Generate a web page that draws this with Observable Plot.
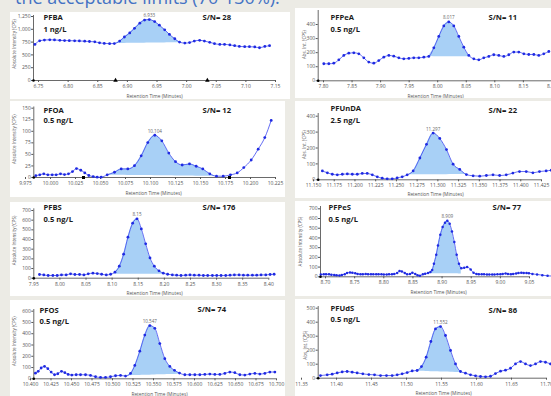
<!DOCTYPE html>
<html><head><meta charset="utf-8">
<script src="https://cdn.jsdelivr.net/npm/d3@7"></script>
<script src="https://cdn.jsdelivr.net/npm/@observablehq/plot@0.6"></script>
<style>
html,body{margin:0;padding:0;}
body{width:551px;height:396px;overflow:hidden;background:#ecebe5;position:relative;font-family:"Open Sans",sans-serif;}
#title{position:absolute;left:15px;top:-12px;font-size:18px;line-height:18px;color:#4472c4;white-space:nowrap;}
.panel{position:absolute;background:#fff;overflow:hidden;}
.panel svg{display:block;}
</style></head><body>
<div id="title">the acceptable limits (70-130%).</div>
<script>
// ---------- data (retention time in minutes, intensity in CPS) ----------
const pfba = [[6.744,705],[6.752,775],[6.760,790],[6.769,795],[6.777,792],[6.786,785],[6.794,780],[6.802,778],[6.811,775],[6.819,772],[6.828,768],[6.836,762],[6.845,755],[6.853,735],[6.861,725],[6.870,720],[6.878,722],[6.887,770],[6.895,850],[6.904,930],[6.912,1020],[6.921,1120],[6.929,1180],[6.937,1190],[6.946,1150],[6.954,1080],[6.963,990],[6.971,900],[6.980,815],[6.988,750],[6.997,730],[7.005,740],[7.013,770],[7.022,785],[7.030,770],[7.039,745],[7.047,720],[7.056,705],[7.064,705],[7.073,695],[7.081,680],[7.089,665],[7.098,660],[7.106,660],[7.115,655],[7.123,640],[7.132,665],[7.140,680]];
const pfbaBase = [[6.878,722],[6.988,738]];
const pfbaMarks = [6.880, 7.035];
const pfbaXTicks = [6.75,6.80,6.85,6.90,6.95,7.00,7.05,7.10,7.15];
const pfbaYTicks = [0,250,500,750,1000,1250];

const pfpea = [[7.8005,121],[7.8093,121],[7.818,125],[7.8268,149],[7.8356,180],[7.8443,196],[7.8531,199],[7.8618,192],[7.8706,163],[7.8793,133],[7.8881,125],[7.8968,144],[7.9056,168],[7.9144,180],[7.9231,175],[7.9319,163],[7.9406,156],[7.9494,159],[7.9581,163],[7.9669,163],[7.9757,168],[7.9844,173],[7.9932,234],[8.0019,315],[8.0107,390],[8.0194,418],[8.0282,390],[8.0370,315],[8.0457,239],[8.0545,180],[8.0632,156],[8.0720,149],[8.0807,163],[8.0895,173],[8.0982,185],[8.1070,180],[8.1158,173],[8.1245,185],[8.1333,204],[8.1420,204],[8.1508,192],[8.1595,187],[8.1683,187],[8.1770,180],[8.1858,192],[8.1946,208]];
const pfpeaBase = [[7.9844,172],[8.0545,170]];
const pfpeaXTicks = [7.80,7.85,7.90,7.95,8.00,8.05,8.10,8.15,8.20];
const pfpeaYTicks = [0,100,200,300,400];

const pfoa = [[9.9853,4],[9.9893,5.7],[9.9933,7.9],[9.9973,5.7],[10.0017,5.7],[10.0057,5.7],[10.0100,7.9],[10.0140,6.4],[10.0180,7.9],[10.0220,12.9],[10.0260,19.3],[10.0303,15.7],[10.0343,10],[10.0383,4.3],[10.0427,2.1],[10.0467,0.7],[10.0507,0.7],[10.0567,5.7],[10.0640,11.4],[10.0707,18.6],[10.0773,18.6],[10.0840,25.7],[10.0907,47],[10.0973,75.7],[10.1043,91.4],[10.1113,79.3],[10.1183,52.9],[10.1250,34.3],[10.1317,27.1],[10.1390,29.3],[10.1457,24.3],[10.1523,18.6],[10.1593,7.9],[10.1660,2.9],[10.1727,2.9],[10.1800,5.7],[10.1867,10],[10.1933,21.4],[10.2007,37.9],[10.2077,61.4],[10.2143,86.4],[10.2207,123.6]];
const pfoaBase = [[10.0567,5],[10.1660,2.5]];
const pfoaMarks = [10.033, 10.179];
const pfoaXTicks = [9.975,10.000,10.025,10.050,10.075,10.100,10.125,10.150,10.175,10.200,10.225];
const pfoaYTicks = [0,25,50,75,100,125,150];

const pfunda = [[11.1607,56],[11.1667,44],[11.1727,35],[11.1787,31],[11.1848,35],[11.1908,37],[11.1968,35],[11.2028,35],[11.2088,40],[11.2148,40],[11.2209,31],[11.2269,19],[11.2329,10],[11.2389,6],[11.2449,6],[11.2509,12],[11.2570,19],[11.2630,31],[11.2702,56],[11.2783,137],[11.2863,223],[11.2943,294],[11.3023,260],[11.3104,190],[11.3184,98],[11.3264,65],[11.3344,33],[11.3425,25],[11.3505,23],[11.3585,27],[11.3665,31],[11.3745,27],[11.3825,31],[11.3905,42],[11.3985,52],[11.4066,52],[11.4146,44],[11.4226,52],[11.4306,56],[11.4367,60]];
const pfundaBase = [[11.2630,31],[11.3344,33]];
const pfundaXTicks = [11.150,11.175,11.200,11.225,11.250,11.275,11.300,11.325,11.350,11.375,11.400,11.425];
const pfundaYTicks = [0,100,200,300,400];

const pfbs = [[7.9609,38],[7.9692,34],[7.9775,28],[7.9865,28],[7.9948,28],[8.0030,34],[8.0120,34],[8.0204,45],[8.0287,38],[8.0376,38],[8.0460,34],[8.0543,45],[8.0632,52],[8.0715,48],[8.0799,41],[8.0888,34],[8.0971,41],[8.1054,62],[8.1137,124],[8.1220,248],[8.1303,424],[8.1393,569],[8.1476,614],[8.1559,510],[8.1642,355],[8.1725,210],[8.1808,124],[8.1897,76],[8.1980,52],[8.2063,41],[8.2153,34],[8.2236,31],[8.2319,28],[8.2408,31],[8.2491,34],[8.2574,31],[8.2664,31],[8.2747,28],[8.2830,28],[8.2920,28],[8.3003,28],[8.3086,28],[8.3175,28],[8.3258,31],[8.3341,34],[8.3431,34],[8.3514,31],[8.3597,31],[8.3686,31],[8.3769,31],[8.3852,34],[8.3942,34],[8.4025,38],[8.4102,41]];
const pfbsBase = [[8.1054,40],[8.1980,40]];
const pfbsXTicks = [7.95,8.00,8.05,8.10,8.15,8.20,8.25,8.30,8.35,8.40];
const pfbsYTicks = [0,100,200,300,400,500,600,700];

const pfpes = [[8.692,24],[8.697,26],[8.701,27],[8.706,25],[8.710,22],[8.715,18],[8.719,15],[8.724,14],[8.728,18],[8.733,27],[8.737,38],[8.742,45],[8.746,42],[8.751,36],[8.755,30],[8.760,27],[8.764,27],[8.769,28],[8.773,27],[8.778,27],[8.782,26],[8.787,27],[8.791,27],[8.796,25],[8.800,24],[8.805,24],[8.809,25],[8.814,25],[8.818,28],[8.823,40],[8.827,60],[8.831,55],[8.836,40],[8.840,25],[8.845,30],[8.849,41],[8.854,30],[8.858,15],[8.862,10],[8.867,25],[8.871,31],[8.876,38],[8.880,50],[8.883,70],[8.886,134],[8.890,227],[8.893,323],[8.897,433],[8.901,512],[8.905,557],[8.909,577],[8.913,546],[8.917,467],[8.921,357],[8.925,227],[8.929,134],[8.933,89],[8.938,93],[8.943,100],[8.949,76],[8.954,41],[8.959,30],[8.963,27],[8.968,26],[8.972,25],[8.977,24],[8.981,24],[8.986,24],[8.990,24],[8.995,25],[9.000,27],[9.004,30],[9.009,34],[9.013,30],[9.018,27],[9.022,30],[9.027,34],[9.031,38],[9.036,41],[9.040,40],[9.045,38],[9.049,36],[9.055,30],[9.063,24],[9.072,17],[9.081,10],[9.089,8]];
const pfpesBase = [[8.871,31],[8.933,30]];
const pfpesXTicks = [8.70,8.75,8.80,8.85,8.90,8.95,9.00,9.05];
const pfpesYTicks = [0,100,200,300,400,500,600,700];

const pfos = [[10.406,50],[10.4094,66],[10.4130,96],[10.4171,110],[10.4211,90],[10.4252,60],[10.4293,36],[10.4333,45],[10.4378,66],[10.4419,54],[10.4459,39],[10.4504,33],[10.4557,36],[10.4610,36],[10.4671,36],[10.4732,30],[10.4793,18],[10.4854,12],[10.4915,12],[10.4976,18],[10.5037,27],[10.5098,30],[10.5159,24],[10.5220,48],[10.5272,119],[10.5333,245],[10.5394,388],[10.5455,472],[10.5516,448],[10.5577,313],[10.5638,179],[10.5699,110],[10.5756,75],[10.5817,51],[10.5882,36],[10.5943,36],[10.6004,36],[10.6065,36],[10.6126,39],[10.6187,42],[10.6248,39],[10.6309,39],[10.6370,48],[10.6431,60],[10.6492,54],[10.6553,36],[10.6614,33],[10.6675,42],[10.6736,48],[10.6797,42],[10.6858,48],[10.6919,60],[10.6980,60]];
const pfosBase = [[10.5159,26],[10.5817,40]];
const pfosXTicks = [10.400,10.425,10.450,10.475,10.500,10.525,10.550,10.575,10.600,10.625,10.650,10.675,10.700];
const pfosYTicks = [0,100,200,300,400,500,600];

const pfuds = [[11.3771,19],[11.3867,24],[11.3938,29],[11.4010,38],[11.4081,45],[11.4152,48],[11.4224,43],[11.4295,38],[11.4376,31],[11.4462,26],[11.4543,24],[11.4629,19],[11.4714,19],[11.4795,19],[11.4867,24],[11.4938,31],[11.5010,40],[11.5081,52],[11.5152,55],[11.5214,83],[11.5281,150],[11.5348,262],[11.5414,352],[11.5486,369],[11.5557,305],[11.5629,198],[11.5700,102],[11.5771,48],[11.5843,36],[11.5914,24],[11.5986,17],[11.6057,12],[11.6129,10],[11.6200,14],[11.6271,33],[11.6343,50],[11.6414,57],[11.6486,71],[11.6557,102],[11.6629,119],[11.6700,102],[11.6771,90],[11.6843,102],[11.6914,119],[11.6986,114],[11.7057,102]];
const pfudsBase = [[11.5152,50],[11.5771,40]];
const pfudsXTicks = [11.35,11.40,11.45,11.50,11.55,11.60,11.65,11.70];
const pfudsYTicks = [0,100,200,300,400,500];

const XLABEL = "Retention Time (Minutes)";
const YLONG = "Absolute Intensity (CPS)";
const YSHORT = "Abs. Int. (CPS)";

// ---------- panel layout ----------
const panels = [
  {data:pfba, base:pfbaBase, marks:pfbaMarks, sym:"triangle", xticks:pfbaXTicks, yticks:pfbaYTicks, xfmt:".2f", yfmt:",",
   box:{l:10,t:12,w:280,h:87}, axisX:33, xref:[[6.75,38],[7.15,275]], yref:[[0,80],[1250,16]], axisTop:15,
   name:"PFBA", conc:"1 ng/L", sn:"S/N= 28", namePos:[43,16.8], concPos:[43,29.5], snPos:[202,17.5],
   ylabel:YLONG, ylx:14, ylDy:-4, xlx:154, xlDy:15.5, peak:"6.933"},
  {data:pfpea, base:pfpeaBase, xticks:pfpeaXTicks, yticks:pfpeaYTicks, xfmt:".2f", yfmt:",",
   box:{l:295,t:8,w:270,h:90}, axisX:317.7, xref:[[7.80,323],[8.20,551.4]], yref:[[0,80.3],[400,24]], axisTop:10,
   name:"PFPeA", conc:"0.5 ng/L", sn:"S/N= 11", namePos:[330,16.7], concPos:[330,29.3], snPos:[488,17],
   ylabel:YSHORT, ylx:304, ylDy:-1, xlx:435, xlDy:15.5, peak:"8.017"},
  {data:pfoa, base:pfoaBase, marks:pfoaMarks, sym:"square", xticks:pfoaXTicks, yticks:pfoaYTicks, xfmt:".3f", yfmt:",",
   box:{l:10,t:101,w:275,h:96}, axisX:33.3, xref:[[10.0,50],[10.225,275]], yref:[[0,177],[150,107.7]], axisTop:106.5,
   name:"PFOA", conc:"0.5 ng/L", sn:"S/N= 12", namePos:[43,110], concPos:[43,120], snPos:[202,110.5],
   ylabel:YLONG, ylx:14, ylDy:-3, xlx:153, xlDy:16, peak:"10.104"},
  {data:pfunda, base:pfundaBase, xticks:pfundaXTicks, yticks:pfundaYTicks, xfmt:".3f", yfmt:",",
   box:{l:295,t:101,w:270,h:97}, axisX:317.7, xref:[[11.15,313],[11.425,541]], yref:[[0,179.3],[400,115.7]], axisTop:113,
   name:"PFUnDA", conc:"2.5 ng/L", sn:"S/N= 22", namePos:[330,108.3], concPos:[330,120], snPos:[488,110],
   ylabel:YSHORT, ylx:304, ylDy:-2, xlx:435, xlDy:15, peak:"11.297"},
  {data:pfbs, base:pfbsBase, xticks:pfbsXTicks, yticks:pfbsYTicks, xfmt:".2f", yfmt:",",
   box:{l:10,t:202,w:275,h:94}, axisX:33.3, xref:[[7.95,33.3],[8.40,268.3]], yref:[[0,277.7],[700,210]], axisTop:208.3,
   name:"PFBS", conc:"0.5 ng/L", sn:"S/N= 176", namePos:[43,206.7], concPos:[43,219], snPos:[202,206.7],
   ylabel:YLONG, ylx:14, ylDy:-3, xlx:154, xlDy:15.5, peak:"8.15"},
  {data:pfpes, base:pfpesBase, xticks:pfpesXTicks, yticks:pfpesYTicks, xfmt:".2f", yfmt:",", small:true,
   box:{l:295,t:201,w:270,h:95}, axisX:320, xref:[[8.70,325],[9.05,529]], yref:[[0,276.3],[700,208.3]], axisTop:206,
   name:"PFPeS", conc:"0.5 ng/L", sn:"S/N= 77", namePos:[328,206.7], concPos:[328,219], snPos:[492,206.7],
   ylabel:YLONG, ylx:300, ylDy:0, xlx:438, xlDy:16, peak:"8.909"},
  {data:pfos, base:pfosBase, xticks:pfosXTicks, yticks:pfosYTicks, xfmt:".3f", yfmt:",",
   box:{l:10,t:300,w:275,h:100}, axisX:33.3, xref:[[10.40,30],[10.70,276]], yref:[[0,378.3],[600,310.7]], axisTop:309,
   name:"PFOS", conc:"0.5 ng/L", sn:"S/N= 74", namePos:[39,310], concPos:[39,321], snPos:[197,309.5],
   ylabel:YLONG, ylx:14, ylDy:-3, xlx:159, xlDy:15.5, peak:"10.547"},
  {data:pfuds, base:pfudsBase, xticks:pfudsXTicks, yticks:pfudsYTicks, xfmt:".2f", yfmt:",",
   box:{l:295,t:299,w:270,h:100}, axisX:317.7, xref:[[11.35,301],[11.70,546]], yref:[[0,377.7],[500,307.7]], axisTop:306,
   name:"PFUdS", conc:"0.5 ng/L", sn:"S/N= 86", namePos:[330,307.7], concPos:[330,319], snPos:[488,310.5],
   ylabel:YSHORT, ylx:305, ylDy:3, xlx:443, xlDy:15.5, peak:"11.552"}
];

const LINE = "#3b46f0", DOT = "#1f2ae2", FILL = "#a8d0f6", AXIS = "#444";

function build(c) {
  const kx = (c.xref[1][1] - c.xref[0][1]) / (c.xref[1][0] - c.xref[0][0]);
  const xmin = c.xref[0][0] + (c.axisX - c.xref[0][1]) / kx;
  const xmax = c.xref[0][0] + (c.box.l + c.box.w - c.xref[0][1]) / kx;
  const ky = (c.yref[0][1] - c.yref[1][1]) / (c.yref[1][0] - c.yref[0][0]);
  const ymax = (c.yref[0][1] - c.axisTop) / ky;
  const mL = c.axisX - c.box.l, mT = c.axisTop - c.box.t, mB = c.box.t + c.box.h - c.yref[0][1];
  const [b0, b1] = c.base;
  const base = t => b0[1] + (b1[1] - b0[1]) * (t - b0[0]) / (b1[0] - b0[0]);
  const seg = c.data.filter(d => d[0] >= b0[0] - 1e-9 && d[0] <= b1[0] + 1e-9);
  const peakPt = seg.reduce((a, b) => b[1] > a[1] ? b : a);
  const xl = c.xref[0][0] + (c.xlx - c.xref[0][1]) / kx;
  const lastTick = c.xticks[c.xticks.length - 1];
  const fsT = 7.6;
  const marks = [
    Plot.areaY(seg, {x: d => d[0], y1: d => base(d[0]), y2: d => d[1], fill: FILL, curve: "monotone-x"}),
    Plot.ruleY([0], {x1: xmin, x2: Math.min(lastTick, xmax), stroke: AXIS, strokeWidth: 0.8}),
    Plot.ruleX([xmin], {y1: 0, y2: ymax, stroke: AXIS, strokeWidth: 0.8}),
    Plot.axisX({ticks: c.xticks, tickFormat: d3.format(c.xfmt), tickSize: 2, tickPadding: 2, label: null}),
    Plot.axisY({ticks: c.yticks, tickFormat: d3.format(c.yfmt), tickSize: 2, tickPadding: 1, label: null}),
    Plot.line(c.data, {x: d => d[0], y: d => d[1], stroke: LINE, strokeWidth: 0.8, curve: "monotone-x"}),
    Plot.dot(c.data, {x: d => d[0], y: d => d[1], r: c.small ? 1.25 : 1.4, fill: DOT}),
    Plot.dot([[xmin, 0]], {x: d => d[0], y: d => d[1], r: 1.3, fill: "#000"}),
    Plot.text([peakPt], {x: d => d[0], y: d => d[1], text: () => c.peak, dy: -4, fontSize: 4.6, fill: "#666"}),
    Plot.text([c.name], {text: d => d, frameAnchor: "top-left", dx: c.namePos[0] - c.axisX, dy: c.namePos[1] - c.axisTop,
      textAnchor: "start", lineAnchor: "middle", fontSize: fsT, fontWeight: 700, fill: "#1b1b1b"}),
    Plot.text([c.conc], {text: d => d, frameAnchor: "top-left", dx: c.concPos[0] - c.axisX, dy: c.concPos[1] - c.axisTop,
      textAnchor: "start", lineAnchor: "middle", fontSize: fsT, fontWeight: 700, fill: "#1b1b1b"}),
    Plot.text([c.sn], {text: d => d, frameAnchor: "top-left", dx: c.snPos[0] - c.axisX, dy: c.snPos[1] - c.axisTop,
      textAnchor: "start", lineAnchor: "middle", fontSize: fsT, fontWeight: 700, fill: "#1b1b1b"}),
    Plot.text([c.ylabel], {text: d => d, frameAnchor: "left", rotate: -90, dx: c.ylx - c.axisX, dy: c.ylDy,
      textAnchor: "middle", lineAnchor: "middle", fontSize: 4.5, fill: "#555"}),
    Plot.text([{x: xl, s: XLABEL}], {x: "x", text: "s", frameAnchor: "bottom", dy: c.xlDy,
      textAnchor: "middle", lineAnchor: "middle", fontSize: 4.8, fill: "#555"})
  ];
  if (c.marks) marks.push(Plot.dot(c.marks, {x: d => d, y: 0, symbol: c.sym, r: 1.7, fill: "#000"}));
  const svg = Plot.plot({
    width: c.box.w, height: c.box.h,
    marginLeft: mL, marginRight: 0, marginTop: mT, marginBottom: mB,
    x: {domain: [xmin, xmax]}, y: {domain: [0, ymax]},
    style: {fontFamily: "'Open Sans', sans-serif", fontSize: "5px", color: "#555", background: "transparent", overflow: "visible"},
    marks
  });
  const div = document.createElement("div");
  div.className = "panel";
  Object.assign(div.style, {left: c.box.l + "px", top: c.box.t + "px", width: c.box.w + "px", height: c.box.h + "px"});
  div.appendChild(svg);
  document.body.appendChild(div);
}
panels.forEach(build);
</script></body></html>
